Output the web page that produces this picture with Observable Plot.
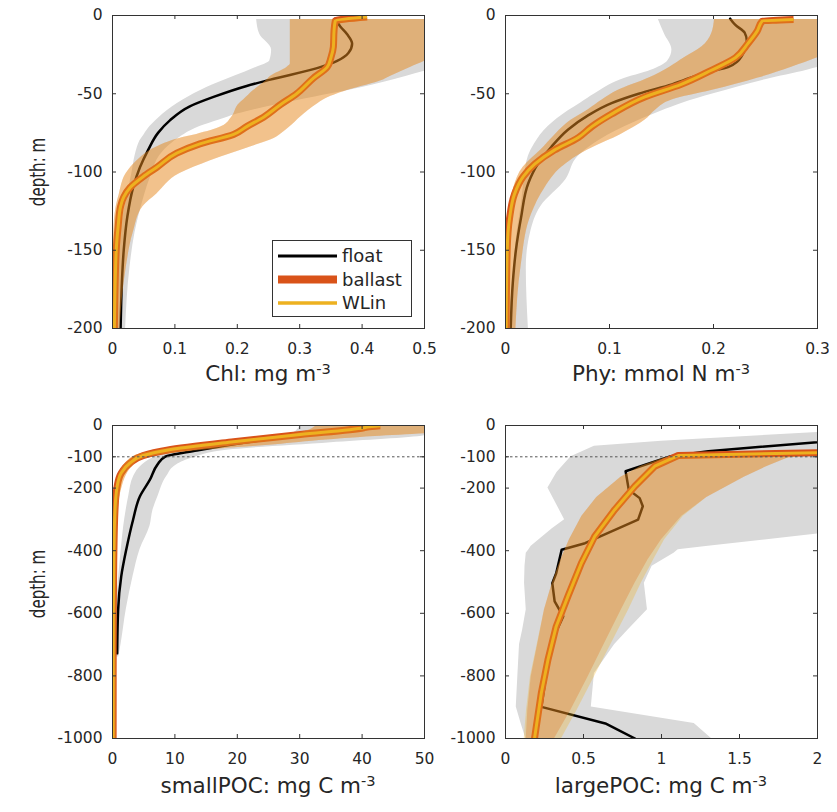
<!DOCTYPE html>
<html>
<head>
<meta charset="utf-8">
<script src="https://cdn.jsdelivr.net/npm/d3@7"></script>
<script src="https://cdn.jsdelivr.net/npm/@observablehq/plot@0.6"></script>
<style>
  body { margin: 0; background: #fff; }
  #fig { position: relative; width: 837px; height: 812px; font-family: "DejaVu Sans", sans-serif; color: #262626; overflow: hidden; }
  .panel { position: absolute; }
  .xl { position: absolute; transform: translate(-50%, -50%); white-space: nowrap; font-size: 21.5px; }
  .yl { position: absolute; transform: translate(-50%, -50%) rotate(-90deg) scale(0.7, 1); white-space: nowrap; font-size: 21.5px; }
  sup { font-size: 0.68em; position: relative; top: -0.45em; vertical-align: baseline; }
  #legend { position: absolute; left: 272px; top: 240px; width: 140px; height: 77px; box-sizing: border-box; border: 1px solid #333; background: #fff; }
</style>
</head>
<body>
<div id="fig">
  <div class="yl" style="left:37px;top:172px">depth: m</div>
  <div class="yl" style="left:37px;top:584px">depth: m</div>
  <div class="xl" style="left:268px;top:373px">Chl: mg m<sup>-3</sup></div>
  <div class="xl" style="left:661px;top:373px">Phy: mmol N m<sup>-3</sup></div>
  <div class="xl" style="left:268px;top:785px">smallPOC: mg C m<sup>-3</sup></div>
  <div class="xl" style="left:661px;top:785px">largePOC: mg C m<sup>-3</sup></div>
</div>
<script>
// ---------- tick values ----------
const depthTicksTop = [0, -50, -100, -150, -200];
const depthTicksBottom = [0, -100, -200, -400, -600, -800, -1000];
const chlTicks = [0, 0.1, 0.2, 0.3, 0.4, 0.5];
const phyTicks = [0, 0.1, 0.2, 0.3];
const spocTicks = [0, 10, 20, 30, 40, 50];
const lpocTicks = [0, 0.5, 1, 1.5, 2];
const euphoticDepth = [-100];

// ---------- Chl panel ----------
const chlFloatDepth = [-2, -7, -12, -18, -24, -29, -33, -41, -45, -52, -58, -67, -75, -86, -97, -110, -128, -150, -171, -200];
const chlFloat = [0.357, 0.365, 0.376, 0.384, 0.378, 0.36, 0.333, 0.253, 0.215, 0.162, 0.124, 0.092, 0.073, 0.057, 0.044, 0.033, 0.024, 0.018, 0.015, 0.013];
const chlModelDepth = [-1, -3.5, -10, -20, -27, -33, -40, -50, -57, -65, -71, -76, -82, -88, -97, -103, -110, -116, -122, -135, -150, -200];
const chlBallast = [0.408, 0.357, 0.355, 0.354, 0.35, 0.344, 0.322, 0.295, 0.269, 0.242, 0.215, 0.194, 0.14, 0.103, 0.071, 0.049, 0.028, 0.018, 0.013, 0.009, 0.006, 0.003];
const chlGrayDepth = [-2.5, -12, -22, -29, -33, -39, -46, -54, -63, -67, -71, -76, -80, -84, -90, -101, -118, -139, -161, -200];
const chlGrayLo = [0.231, 0.236, 0.255, 0.252, 0.231, 0.194, 0.151, 0.113, 0.081, 0.07, 0.060, 0.051, 0.044, 0.04, 0.036, 0.031, 0.022, 0.012, 0.006, 0.004];
const chlGrayHi = [0.55, 0.55, 0.55, 0.54, 0.52, 0.47, 0.40, 0.30, 0.20, 0.17, 0.14, 0.115, 0.10, 0.088, 0.075, 0.063, 0.049, 0.036, 0.028, 0.021];
const chlBandDepth = [-2.5, -27, -31, -33, -39, -41, -48, -54, -56, -65, -71, -76, -78, -84, -93, -101, -114, -122, -139, -161, -200];
const chlBandLo = [0.285, 0.285, 0.285, 0.28, 0.253, 0.248, 0.226, 0.21, 0.204, 0.191, 0.175, 0.135, 0.113, 0.071, 0.039, 0.022, 0.011, 0.006, 0.002, 0.001, 0];
const chlBandHi = [0.56, 0.51, 0.49, 0.478, 0.445, 0.435, 0.376, 0.338, 0.33, 0.301, 0.285, 0.269, 0.262, 0.221, 0.156, 0.108, 0.071, 0.049, 0.033, 0.022, 0.012];

// ---------- Phy panel ----------
const phyFloatDepth = [-2, -6, -11, -16, -26, -33, -36, -44, -50, -56, -64, -73, -84, -95, -107, -129, -150, -171, -200];
const phyFloat = [0.216, 0.221, 0.230, 0.232, 0.227, 0.214, 0.195, 0.160, 0.128, 0.102, 0.079, 0.060, 0.044, 0.031, 0.022, 0.015, 0.010, 0.007, 0.005];
const phyModelDepth = [-2.5, -3.5, -10, -18, -27, -35, -44, -52, -63, -71, -78, -86, -95, -103, -114, -129, -150, -200];
const phyBallast = [0.277, 0.247, 0.242, 0.233, 0.221, 0.198, 0.169, 0.134, 0.102, 0.083, 0.070, 0.047, 0.028, 0.017, 0.0087, 0.004, 0.0016, 0.0006];
const phyGrayDepth = [-2.5, -12, -22, -29, -35, -41, -50, -56, -61, -71, -82, -90, -105, -122, -139, -161, -200];
const phyGrayLo = [0.147, 0.153, 0.160, 0.156, 0.140, 0.111, 0.086, 0.072, 0.060, 0.041, 0.028, 0.022, 0.018, 0.015, 0.011, 0.008, 0.003];
const phyGrayHi = [0.33, 0.33, 0.33, 0.32, 0.29, 0.25, 0.20, 0.17, 0.15, 0.115, 0.085, 0.07, 0.058, 0.034, 0.024, 0.020, 0.022];
const phyBandDepth = [-2.5, -12, -20, -27, -33, -40, -48, -54, -60, -67, -76, -86, -97, -110, -127, -160, -200];
const phyBandLo = [0.201, 0.198, 0.189, 0.172, 0.158, 0.138, 0.108, 0.093, 0.080, 0.063, 0.048, 0.034, 0.017, 0.008, 0.004, 0.002, 0.0015];
const phyBandHi = [0.33, 0.33, 0.32, 0.30, 0.275, 0.243, 0.198, 0.160, 0.145, 0.134, 0.111, 0.079, 0.054, 0.038, 0.025, 0.015, 0.010];

// ---------- smallPOC panel ----------
const spocFloatDepth = [-2, -10, -30, -55, -80, -100, -125, -173, -226, -301, -397, -482, -589, -728];
const spocFloat = [42, 39, 31, 21, 13.5, 8.4, 7.2, 6.0, 4.4, 3.3, 2.2, 1.4, 0.9, 0.75];
const spocModelDepth = [-1, -5, -7, -29, -52, -79, -96, -120, -152, -194, -269, -429, -600, -1000];
const spocBallast = [42.9, 40.8, 40.3, 30.1, 19.4, 8.7, 4.9, 2.8, 1.4, 0.75, 0.4, 0.2, 0.12, 0.1];
const spocGrayDepth = [-2, -23, -29, -55, -77, -103, -125, -162, -226, -269, -322, -397, -482, -589, -696, -740];
const spocGrayLo = [30, 29, 27, 17, 10, 6.5, 4.8, 3.4, 2.6, 2.2, 1.8, 1.4, 1.0, 0.6, 0.4, 0.4];
const spocGrayHi = [50.5, 50.5, 50.5, 35, 19.4, 13, 10.3, 8.7, 7.3, 6.5, 6.0, 4.4, 3.3, 2.2, 1.4, 1.0];
const spocBandDepth = [0, -10, -23, -35, -50, -65, -80, -95, -110, -130, -160, -200, -270, -400, -1000];
const spocBandLo = [32.7, 32, 30, 26, 18.5, 12, 7, 3.8, 2.6, 1.7, 1.0, 0.6, 0.35, 0.2, 0.1];
const spocBandHi = [55, 55, 52, 42, 32, 24, 14, 7.5, 4.5, 3.2, 2.2, 1.5, 0.9, 0.7, 0.6];

// ---------- largePOC panel ----------
const lpocFloatDepth = [-45, -82, -98, -146, -205, -232, -258, -301, -376, -397, -472, -504, -562, -610, -653, -700, -800, -899, -952, -1000];
const lpocFloat = [2.2, 1.30, 1.06, 0.77, 0.79, 0.86, 0.88, 0.85, 0.51, 0.36, 0.325, 0.30, 0.315, 0.37, 0.33, 0.30, 0.26, 0.23, 0.64, 0.83];
const lpocModelDepth = [-86, -96, -130, -194, -269, -354, -440, -546, -642, -749, -856, -1000];
const lpocBallast = [2.1, 1.107, 0.957, 0.829, 0.70, 0.572, 0.486, 0.40, 0.325, 0.272, 0.229, 0.186];
const lpocGrayDepth = [-21, -50, -66, -100, -150, -200, -301, -330, -386, -397, -408, -450, -504, -589, -653, -700, -792, -899, -952, -1000];
const lpocGrayLo = [2.05, 1.0, 0.57, 0.42, 0.33, 0.272, 0.379, 0.30, 0.165, 0.15, 0.133, 0.125, 0.122, 0.133, 0.11, 0.09, 0.08, 0.069, 0.10, 0.13];
const lpocGrayHi = [2.3, 2.3, 2.3, 2.3, 2.3, 2.3, 2.3, 2.3, 1.3, 1.107, 1.08, 0.94, 0.89, 0.91, 0.786, 0.70, 0.57, 0.55, 1.21, 1.32];
const lpocBandDepth = [-100, -104, -130, -165, -230, -290, -365, -429, -504, -589, -696, -803, -909, -1000];
const lpocBandLo = [1.06, 1.02, 0.87, 0.74, 0.585, 0.49, 0.41, 0.355, 0.30, 0.25, 0.208, 0.165, 0.143, 0.133];
const lpocBandHi = [1.9, 1.81, 1.68, 1.53, 1.29, 1.13, 1.0, 0.914, 0.83, 0.743, 0.636, 0.53, 0.42, 0.315];
const lpocWlinBandLo = [1.06, 1.02, 0.87, 0.74, 0.585, 0.49, 0.41, 0.355, 0.30, 0.25, 0.205, 0.16, 0.135, 0.12];
const lpocWlinBandHi = [1.9, 1.81, 1.68, 1.53, 1.29, 1.14, 1.02, 0.95, 0.87, 0.79, 0.68, 0.57, 0.46, 0.36];

// ---------- helpers ----------
const C_FLOAT = "#000000", C_BALLAST = "#D95319", C_WLIN = "#EDB120", C_GRAY = "#d9d9d9";
const pts = (depth, vals) => depth.map((d, i) => ({d, v: vals[i]}));
const band = (depth, lo, hi) => depth.map((d, i) => ({d, lo: lo[i], hi: hi[i]}));

const W = 312, H = 313, ML = 70, MR = 12, MT = 10, MB = 35;

function panel({frameLeft, frameTop, xDomain, xTicks, yDomain, yTicks, gray, float, ballastBand, ballast, wlinBand, wlin, rule, curve = "linear", floatCurve = curve, grayCurve = curve}) {
  const fmt = d => String(d);
  const marks = [
    Plot.areaX(gray, {y: "d", x1: "lo", x2: "hi", fill: C_GRAY, curve: grayCurve, clip: true}),
    Plot.line(float, {x: "v", y: "d", stroke: C_FLOAT, strokeWidth: 2.5, curve: floatCurve, clip: true}),
    Plot.areaX(ballastBand, {y: "d", x1: "lo", x2: "hi", fill: C_BALLAST, fillOpacity: 0.3, curve, clip: true}),
    Plot.line(ballast, {x: "v", y: "d", stroke: C_BALLAST, strokeWidth: 7, strokeLinecap: "butt", curve, clip: true}),
    Plot.areaX(wlinBand, {y: "d", x1: "lo", x2: "hi", fill: C_WLIN, fillOpacity: 0.3, curve, clip: true}),
    Plot.line(wlin, {x: "v", y: "d", stroke: C_WLIN, strokeWidth: 3, strokeLinecap: "butt", curve, clip: true})
  ];
  if (rule) marks.push(Plot.ruleY(rule, {stroke: "#555", strokeWidth: 1, strokeDasharray: "2.5,2.5"}));
  marks.push(
    Plot.frame({stroke: "#333", strokeWidth: 1}),
    Plot.tickX(xTicks, {x: d => d, insetTop: H - 4, stroke: "#333"}),
    Plot.tickX(xTicks, {x: d => d, insetBottom: H - 4, stroke: "#333"}),
    Plot.tickY(yTicks, {y: d => d, insetRight: W - 4, stroke: "#333"}),
    Plot.tickY(yTicks, {y: d => d, insetLeft: W - 4, stroke: "#333"})
  );
  const svg = Plot.plot({
    width: ML + W + MR, height: MT + H + MB,
    marginLeft: ML, marginRight: MR, marginTop: MT, marginBottom: MB,
    style: {background: "transparent", fontFamily: "DejaVu Sans, sans-serif", fontSize: "15.5px", color: "#262626"},
    x: {domain: xDomain, ticks: xTicks, tickFormat: fmt, tickSize: 0, tickPadding: 14, label: null},
    y: {domain: yDomain, ticks: yTicks, tickFormat: fmt, tickSize: 0, tickPadding: 10, label: null},
    marks
  });
  svg.classList.add("panel");
  svg.style.position = "absolute";
  svg.style.left = (frameLeft - ML) + "px";
  svg.style.top = (frameTop - MT) + "px";
  svg.style.maxWidth = "none";
  document.getElementById("fig").appendChild(svg);
}

panel({frameLeft: 112, frameTop: 15, xDomain: [0, 0.5], xTicks: chlTicks, yDomain: [-200, 0], yTicks: depthTicksTop,
  gray: band(chlGrayDepth, chlGrayLo, chlGrayHi), float: pts(chlFloatDepth, chlFloat),
  ballastBand: band(chlBandDepth, chlBandLo, chlBandHi), ballast: pts(chlModelDepth, chlBallast),
  wlinBand: band(chlBandDepth, chlBandLo, chlBandHi), wlin: pts(chlModelDepth, chlBallast), curve: "monotone-y"});

panel({frameLeft: 505, frameTop: 15, xDomain: [0, 0.3], xTicks: phyTicks, yDomain: [-200, 0], yTicks: depthTicksTop,
  gray: band(phyGrayDepth, phyGrayLo, phyGrayHi), float: pts(phyFloatDepth, phyFloat),
  ballastBand: band(phyBandDepth, phyBandLo, phyBandHi), ballast: pts(phyModelDepth, phyBallast),
  wlinBand: band(phyBandDepth, phyBandLo, phyBandHi), wlin: pts(phyModelDepth, phyBallast), curve: "monotone-y"});

panel({frameLeft: 112, frameTop: 425, xDomain: [0, 50], xTicks: spocTicks, yDomain: [-1000, 0], yTicks: depthTicksBottom,
  gray: band(spocGrayDepth, spocGrayLo, spocGrayHi), float: pts(spocFloatDepth, spocFloat),
  ballastBand: band(spocBandDepth, spocBandLo, spocBandHi), ballast: pts(spocModelDepth, spocBallast),
  wlinBand: band(spocBandDepth, spocBandLo, spocBandHi), wlin: pts(spocModelDepth, spocBallast), rule: euphoticDepth,
  curve: "monotone-y"});

panel({frameLeft: 505, frameTop: 425, xDomain: [0, 2], xTicks: lpocTicks, yDomain: [-1000, 0], yTicks: depthTicksBottom,
  gray: band(lpocGrayDepth, lpocGrayLo, lpocGrayHi), float: pts(lpocFloatDepth, lpocFloat),
  ballastBand: band(lpocBandDepth, lpocBandLo, lpocBandHi), ballast: pts(lpocModelDepth, lpocBallast),
  wlinBand: band(lpocBandDepth, lpocWlinBandLo, lpocWlinBandHi), wlin: pts(lpocModelDepth, lpocBallast), rule: euphoticDepth});

// ---------- legend ----------
const legendItems = [
  {label: "float", color: C_FLOAT, width: 3},
  {label: "ballast", color: C_BALLAST, width: 8},
  {label: "WLin", color: C_WLIN, width: 3.5}
];
const leg = document.createElement("div");
leg.id = "legend";
const ns = "http://www.w3.org/2000/svg";
const lsvg = document.createElementNS(ns, "svg");
lsvg.setAttribute("width", 138); lsvg.setAttribute("height", 75);
legendItems.forEach((it, i) => {
  const y = 15 + i * 23.5;
  const ln = document.createElementNS(ns, "line");
  ln.setAttribute("x1", 5); ln.setAttribute("x2", 64); ln.setAttribute("y1", y); ln.setAttribute("y2", y);
  ln.setAttribute("stroke", it.color); ln.setAttribute("stroke-width", it.width);
  lsvg.appendChild(ln);
  const tx = document.createElementNS(ns, "text");
  tx.setAttribute("x", 69); tx.setAttribute("y", y); tx.setAttribute("dy", "0.36em");
  tx.setAttribute("font-size", "18px"); tx.setAttribute("font-family", "DejaVu Sans, sans-serif");
  tx.setAttribute("fill", "#262626");
  tx.textContent = it.label;
  lsvg.appendChild(tx);
});
leg.appendChild(lsvg);
document.getElementById("fig").appendChild(leg);
</script>
</body>
</html>
